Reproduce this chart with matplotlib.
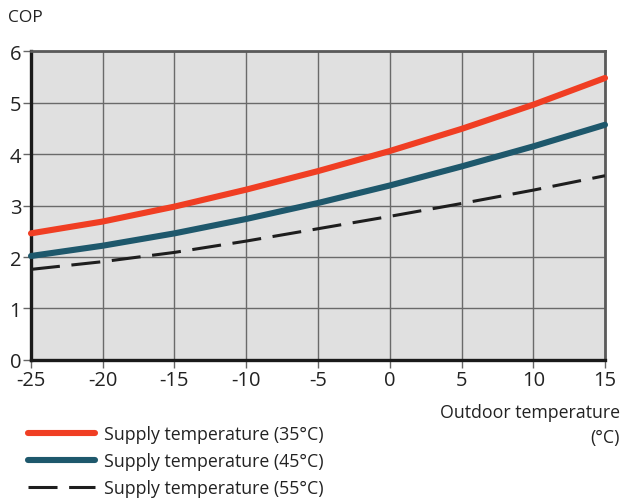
import matplotlib.pyplot as plt

# outdoor temperature (C) and COP for each supply temperature
outdoor = [-25, -20, -15, -10, -5, 0, 5, 10, 15]
cop_35 = [2.46, 2.69, 2.98, 3.31, 3.67, 4.06, 4.49, 4.96, 5.48]
cop_45 = [2.02, 2.22, 2.46, 2.74, 3.05, 3.39, 3.76, 4.15, 4.57]
cop_55 = [1.76, 1.91, 2.09, 2.31, 2.55, 2.79, 3.04, 3.30, 3.58]

labels = ['Supply temperature (35°C)', 'Supply temperature (45°C)',
          'Supply temperature (55°C)']
xticks = [-25, -20, -15, -10, -5, 0, 5, 10, 15]
yticks = [0, 1, 2, 3, 4, 5, 6]

plt.rcParams['font.family'] = ['Open Sans', 'DejaVu Sans']

fig = plt.figure(figsize=(6.25, 5.02), dpi=100)
ax = fig.add_axes([0.0496, 0.281, 0.9184, 0.615])
ax.set_facecolor('#e0e0e0')

ax.plot(outdoor, cop_35, color='#f03e23', lw=4.4, solid_capstyle='round',
        clip_on=False, label=labels[0], zorder=4)
ax.plot(outdoor, cop_45, color='#1e586c', lw=4.4, solid_capstyle='round',
        clip_on=False, label=labels[1], zorder=4)
ax.plot(outdoor, cop_55, color='#1e1e1e', lw=2.2, dashes=(9.5, 3.8),
        label=labels[2], zorder=4)

ax.set_xlim(-25, 15)
ax.set_ylim(0, 6)
ax.set_xticks(xticks)
ax.set_yticks(yticks)
ax.set_xticklabels([str(t) for t in xticks])
ax.grid(True, color='#6a6a6a', lw=1.0)
ax.set_axisbelow(True)

for side in ['top', 'right']:
    ax.spines[side].set_color('#5a5a5a')
    ax.spines[side].set_linewidth(2.0)
for side in ['left', 'bottom']:
    ax.spines[side].set_color('#1a1a1a')
    ax.spines[side].set_linewidth(2.4)

ax.tick_params(axis='both', colors='#666666', length=6, width=1.0,
               labelsize=14.5, labelcolor='#222222')
ax.tick_params(axis='x', pad=1)
ax.tick_params(axis='y', pad=1)

fig.text(0.013, 0.964, 'COP', fontsize=12.5, color='#222222', va='center')
fig.text(0.992, 0.195, 'Outdoor temperature\n(°C)', fontsize=12.8,
         color='#222222', ha='right', va='top', multialignment='right',
         linespacing=1.5)

fig.legend(loc='upper left', bbox_to_anchor=(0.045, 0.151), frameon=False,
           fontsize=12.8, handlelength=3.77, handletextpad=0.5,
           labelspacing=0.5, borderaxespad=0, borderpad=0,
           labelcolor='#222222')

fig.savefig('out.png', dpi=100)
